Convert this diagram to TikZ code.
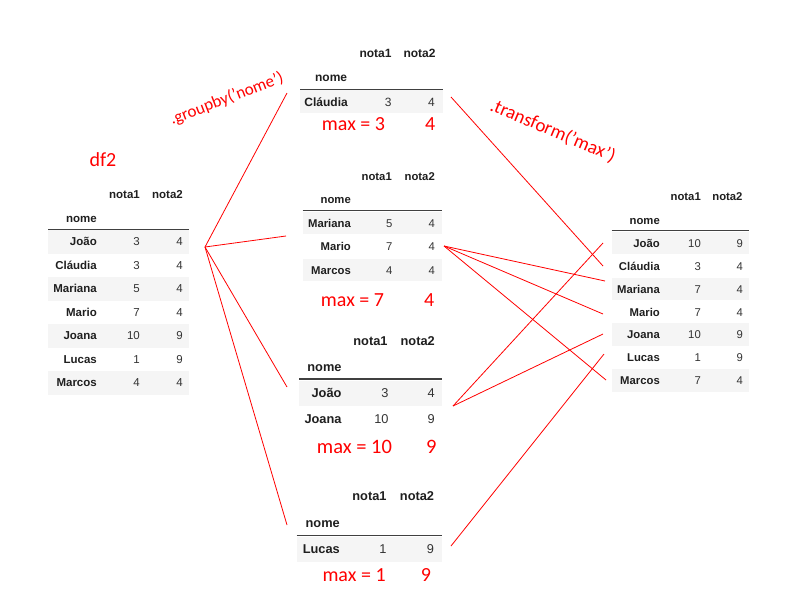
\documentclass[tikz,border=0pt]{standalone}
\usepackage{fontspec}
\setmainfont{Liberation Sans}
\newfontfamily\calib{Carlito}
\begin{document}
\begin{tikzpicture}[x=1pt,y=-1pt,
 hdr/.style={inner sep=0, anchor=base east, text=black!88, font=\bfseries\fontsize{#1}{#1}\selectfont},
 num/.style={inner sep=0, anchor=base east, text=black!80, font=\fontsize{#1}{#1}\selectfont},
 band/.style={fill=black!4, draw=none},
 rulel/.style={draw=black!75, line width=1.4pt},
 redt/.style={inner sep=0, text=red, font=\calib\fontsize{#1}{#1}\selectfont},
 link/.style={draw=red, line width=0.8pt}]
\useasboundingbox (0,0) rectangle (800,600);

% ---------- left table df2 ----------
\foreach \i in {1,3,5,7} \fill[band] (48,{230+(\i-1)*23.5}) rectangle (189,{253.5+(\i-1)*23.5});
\node[hdr=11.5] (Lh1) at (140,198.3) {nota1};
\node[hdr=11.5] (Lh2) at (183,198.3) {nota2};
\node[hdr=11.5] (Lhn) at (97,222.3) {nome};
\draw[rulel] (48,229.3) -- (189,229.3);
\foreach \i/\nm/\a/\b in {1/João/3/4,2/Cláudia/3/4,3/Mariana/5/4,4/Mario/7/4,5/Joana/10/9,6/Lucas/1/9,7/Marcos/4/4}{
  \node[hdr=11.5] (Ln\i) at (97,{245.8+(\i-1)*23.5}) {\nm};
  \node[num=11.5] (La\i) at (140,{245.8+(\i-1)*23.5}) {\a};
  \node[num=11.5] (Lb\i) at (183,{245.8+(\i-1)*23.5}) {\b};
}
\node[redt=20, anchor=base west] (df2) at (89.3,166) {df2};

% ---------- group 1 ----------
\fill[band] (300,90) rectangle (442.7,113.3);
\node[hdr=12] (Ah1) at (391.7,57.6) {nota1};
\node[hdr=12] (Ah2) at (435.7,57.6) {nota2};
\node[hdr=12] (Ahn) at (347.3,81) {nome};
\draw[rulel] (300,89.3) -- (442.7,89.3);
\node[hdr=12] (An1) at (348,106) {Cláudia};
\node[num=12] (Aa1) at (391.7,106) {3};
\node[num=12] (Ab1) at (435,106) {4};
\node[redt=20, anchor=base west] (Am1) at (321.7,130) {max = 3};
\node[redt=20, anchor=base west] (Am2) at (425,130) {4};

% ---------- group 2 ----------
\fill[band] (302.7,211.7) rectangle (441.7,234);
\fill[band] (302.7,258.6) rectangle (441.7,280.9);
\node[hdr=11.3] (Bh1) at (392,180) {nota1};
\node[hdr=11.3] (Bh2) at (435,180) {nota2};
\node[hdr=11.3] (Bhn) at (351,203.3) {nome};
\draw[rulel] (302.7,210.7) -- (441.7,210.7);
\foreach \i/\nm/\a/\b in {1/Mariana/5/4,2/Mario/7/4,3/Marcos/4/4}{
  \node[hdr=11.3] (Bn\i) at (351,{227.3+(\i-1)*23.35}) {\nm};
  \node[num=11.3] (Ba\i) at (392.5,{227.3+(\i-1)*23.35}) {\a};
  \node[num=11.3] (Bb\i) at (435,{227.3+(\i-1)*23.35}) {\b};
}
\node[redt=20, anchor=base west] (Bm1) at (320.7,306) {max = 7};
\node[redt=20, anchor=base west] (Bm2) at (424,306) {4};

% ---------- group 3 ----------
\fill[band] (299.3,380.7) rectangle (442.3,405.5);
\node[hdr=12.8] (Ch1) at (387.7,345.6) {nota1};
\node[hdr=12.8] (Ch2) at (435,345.6) {nota2};
\node[hdr=12.8] (Chn) at (341.7,371.3) {nome};
\draw[rulel] (299.3,379) -- (442.3,379);
\node[hdr=12.8] (Cn1) at (341.7,397.9) {João};
\node[num=12.8] (Ca1) at (388.7,397.9) {3};
\node[num=12.8] (Cb1) at (435,397.9) {4};
\node[hdr=12.8] (Cn2) at (341.7,423.9) {Joana};
\node[num=12.8] (Ca2) at (388.7,423.9) {10};
\node[num=12.8] (Cb2) at (435,423.9) {9};
\node[redt=20.5, anchor=base west] (Cm1) at (316.7,453.3) {max = 10};
\node[redt=20.5, anchor=base west] (Cm2) at (426,453.3) {9};

% ---------- group 4 ----------
\fill[band] (296.7,536.7) rectangle (442.3,561.7);
\node[hdr=12.8] (Dh1) at (386.7,500.6) {nota1};
\node[hdr=12.8] (Dh2) at (434.3,500.6) {nota2};
\node[hdr=12.8] (Dhn) at (340,527.3) {nome};
\draw[rulel] (296.7,535.7) -- (442.3,535.7);
\node[hdr=12.8] (Dn1) at (340,553.9) {Lucas};
\node[num=12.8] (Da1) at (386.7,553.9) {1};
\node[num=12.8] (Db1) at (434.3,553.9) {9};
\node[redt=20, anchor=base west] (Dm1) at (322.3,581.7) {max = 1};
\node[redt=20, anchor=base west] (Dm2) at (420.7,581.7) {9};

% ---------- right table ----------
\foreach \i in {1,3,5,7} \fill[band] (611.7,{231.7+(\i-1)*22.9}) rectangle (749.3,{254.3+(\i-1)*22.9});
\node[hdr=11.3] (Rh1) at (701,200) {nota1};
\node[hdr=11.3] (Rh2) at (742.7,200) {nota2};
\node[hdr=11.3] (Rhn) at (660,224) {nome};
\draw[rulel] (611.7,230.7) -- (749.3,230.7);
\foreach \i/\nm/\a/\b in {1/João/10/9,2/Cláudia/3/4,3/Mariana/7/4,4/Mario/7/4,5/Joana/10/9,6/Lucas/1/9,7/Marcos/7/4}{
  \node[hdr=11.3] (Rn\i) at (660,{247.3+(\i-1)*22.9}) {\nm};
  \node[num=11.3] (Ra\i) at (701,{247.3+(\i-1)*22.9}) {\a};
  \node[num=11.3] (Rb\i) at (743,{247.3+(\i-1)*22.9}) {\b};
}

% ---------- operation labels ----------
\node[redt=17, rotate=21] (gb) at (226.7,98.8) {.groupby(’nome’)};
\node[redt=19, rotate=-23] (tf) at (553,131) {.transform(’max’)};

% ---------- connectors ----------
\coordinate (Lout) at (205,247);
\coordinate (G1in) at (287,93);
\coordinate (G2in) at (286,236);
\coordinate (G3in) at (287,387);
\coordinate (G4in) at (287,525);
\coordinate (G1out) at (451,97);
\coordinate (G2out) at (444,246);
\coordinate (G3out) at (453,406);
\coordinate (G4out) at (451,546);
\coordinate (R1in) at (603,243);
\coordinate (R2in) at (603,266);
\coordinate (R3in) at (605,281);
\coordinate (R4in) at (603,314);
\coordinate (R5in) at (603,334);
\coordinate (R6in) at (604,354);
\coordinate (R7in) at (606,380);
\draw[link] (Lout) -- (G1in);
\draw[link] (Lout) -- (G2in);
\draw[link] (Lout) -- (G3in);
\draw[link] (Lout) -- (G4in);
\draw[link] (G1out) -- (R2in);
\draw[link] (G2out) -- (R3in);
\draw[link] (G2out) -- (R4in);
\draw[link] (G2out) -- (R7in);
\draw[link] (G3out) -- (R1in);
\draw[link] (G3out) -- (R5in);
\draw[link] (G4out) -- (R6in);
\end{tikzpicture}
\end{document}
